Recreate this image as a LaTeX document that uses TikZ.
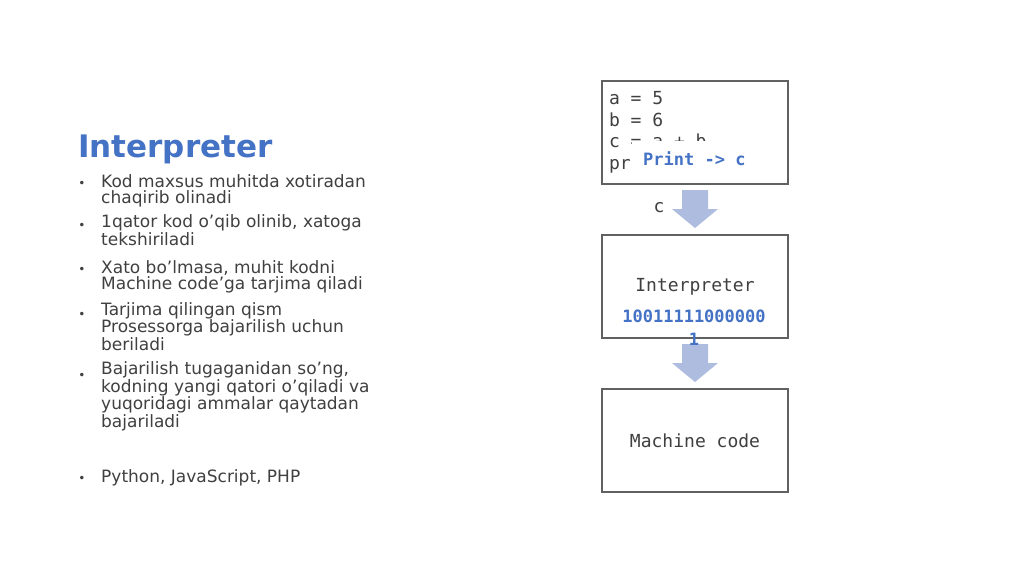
\documentclass[tikz,border=0pt]{standalone}
\usepackage{fontspec}
\setmainfont{DejaVu Sans}
\setmonofont{DejaVu Sans Mono}
\usetikzlibrary{positioning,calc}
\definecolor{titleblue}{HTML}{4472C4}
\definecolor{flowblue}{HTML}{AEBCDF}
\definecolor{bodygray}{HTML}{404040}
\begin{document}
\begin{tikzpicture}[x=1pt, y=-1pt,
    box/.style = {draw=black!62, line width=1.1pt, minimum width=186pt, minimum height=103pt, inner sep=0pt, outer sep=0pt, font=\fontsize{18}{21.5}\selectfont\ttfamily, text=bodygray},
    item/.style = {anchor=base west, align=left, inner sep=0pt, text=bodygray, font=\fontsize{17}{16}\selectfont},
    dot/.style = {anchor=base, inner sep=0pt, text=bodygray, font=\fontsize{12}{12}\selectfont},
    note/.style = {inner sep=0pt, text=titleblue, font=\fontsize{17}{23}\selectfont\ttfamily\bfseries},
    flow/.style = {fill=flowblue},
    node distance=51pt]
  \useasboundingbox (0,0) rectangle (1024,574);
  \fill[white] (0,0) rectangle (1024,574);
  % title and list (base = last line)
  \node[anchor=base west, inner sep=0pt, text=titleblue, font=\fontsize{31}{31}\selectfont\bfseries] (title) at (78,157) {Interpreter};
  \node[item] (item1) at (101,203) {Kod maxsus muhitda xotiradan\\chaqirib olinadi};
  \node[item] (item2) at (101,245) {1qator kod o’qib olinib, xatoga\\tekshiriladi};
  \node[item] (item3) at (101,289) {Xato bo’lmasa, muhit kodni\\Machine code’ga tarjima qiladi};
  \node[item] (item4) at (101,350) {Tarjima qilingan qism\\Prosessorga bajarilish uchun\\beriladi};
  \node[item] (item5) at (101,427) {Bajarilish tugaganidan so’ng,\\kodning yangi qatori o’qiladi va\\yuqoridagi ammalar qaytadan\\bajariladi};
  \node[item] (item6) at (101,482) {Python, JavaScript, PHP};
  \foreach \i/\y in {1/187, 2/229, 3/273, 4/318, 5/379, 6/482}
    \node[dot] at (82,\y) {•};
  % boxes
  \node[box] (code) at (695,132.5) {\parbox{172pt}{a = 5\\b = 6\\c = a + b\\print(c)}};
  \node[box] (interp) [below=of code] {Interpreter};
  \node[box] (machine) [below=of interp] {Machine code};
  \foreach \a/\b in {code/interp, interp/machine}
    \fill[flow] ($(\a.south)+(-13,6)$) -- ++(26,0) -- ++(0,19) -- ++(10,0)
      -- ($(\b.north)+(0,-7)$) -- ($(\a.south)+(-23,25)$) -- ++(10,0) -- cycle;
  \node[note, anchor=base west, fill=white, inner xsep=11pt, inner ysep=10pt] (printc) at (632,165) {Print -> c};
  \node[anchor=base, inner sep=0pt, text=bodygray, font=\fontsize{18}{18}\selectfont\ttfamily] (cvar) at (659,212) {c};
  \node[note, anchor=north, align=center] (bits) at (694,309.5) {10011111000000\\1};
\end{tikzpicture}
\end{document}
